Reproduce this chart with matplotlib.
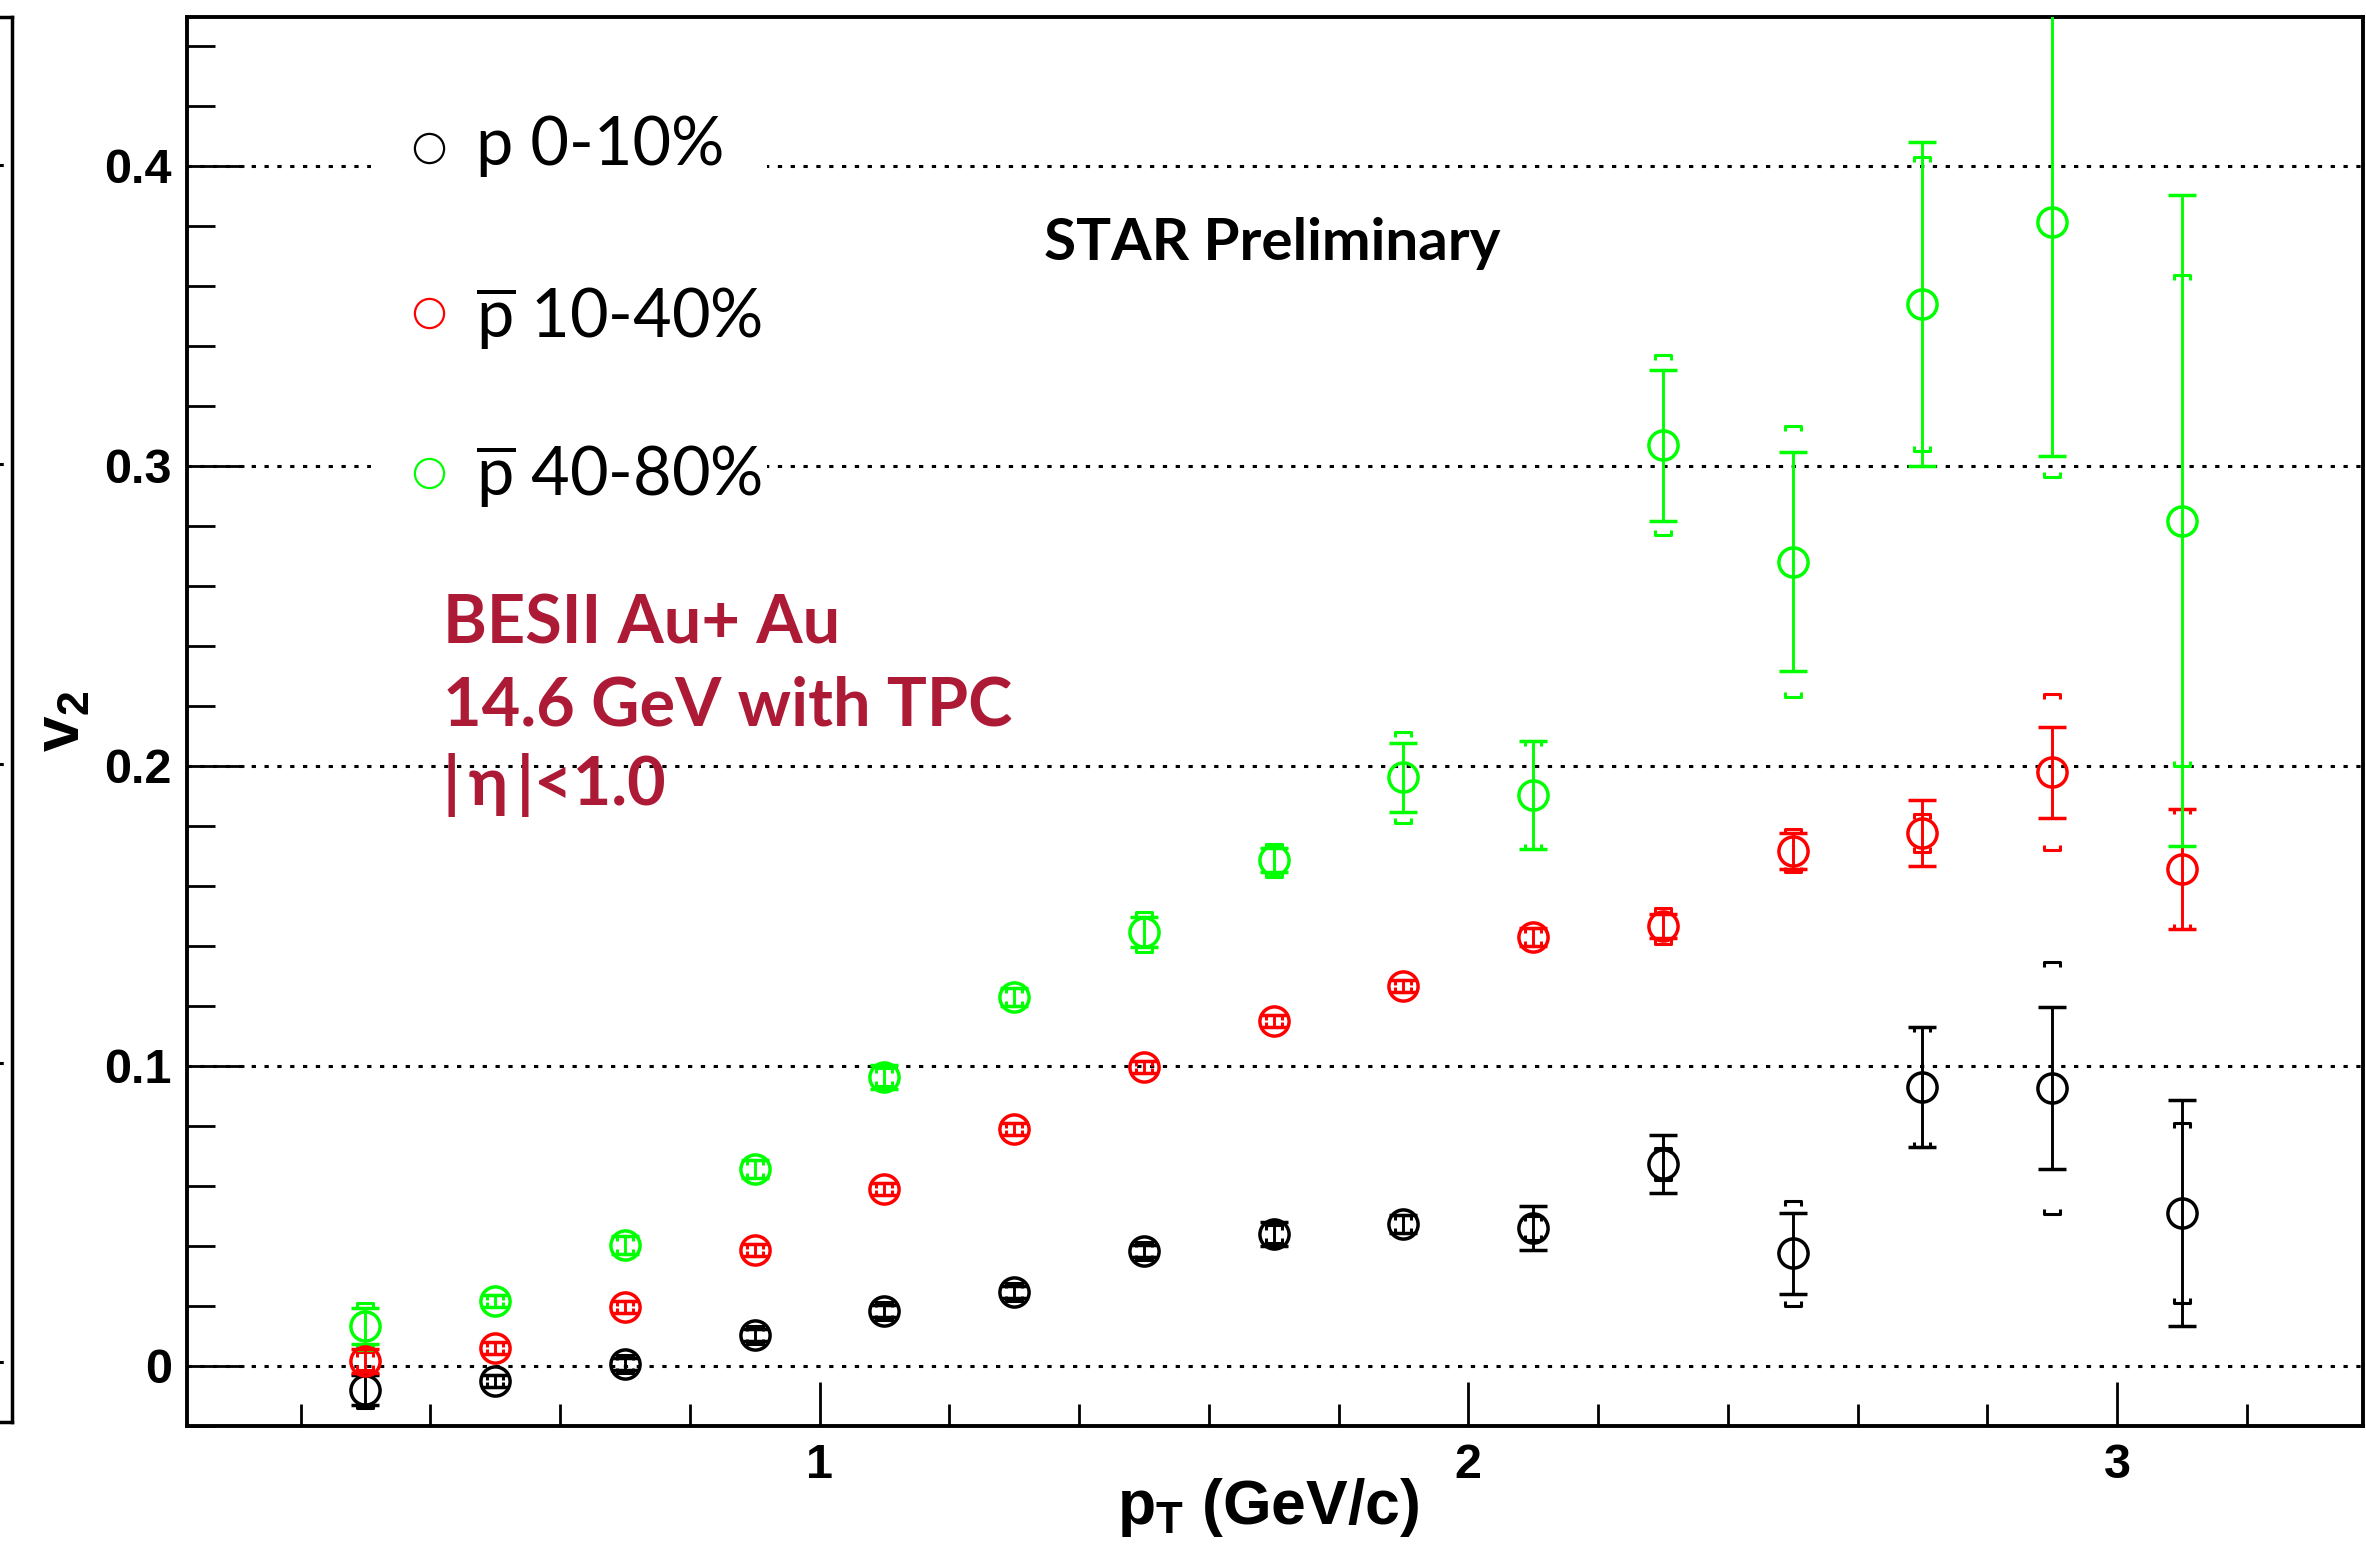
import numpy as np
import matplotlib as mpl
mpl.use('Agg')
import matplotlib.pyplot as plt
from matplotlib.collections import LineCollection
from matplotlib.patches import Rectangle
from matplotlib.ticker import MultipleLocator, FuncFormatter

plt.rcParams['mathtext.fontset'] = 'custom'
plt.rcParams['mathtext.rm'] = 'Lato'
plt.rcParams['mathtext.bf'] = 'Liberation Sans:bold'
plt.rcParams['mathtext.it'] = 'Liberation Sans:italic'
plt.rcParams['mathtext.sf'] = 'Liberation Sans'

# anti-proton / proton v2 vs pT, 14.6 GeV Au+Au
pt = [0.3, 0.5, 0.7, 0.9, 1.1, 1.3, 1.5, 1.7, 1.9, 2.1, 2.3, 2.5, 2.7, 2.9, 3.1]

v2_p_0_10 = [-0.0080, -0.0052, 0.0007, 0.0103, 0.0181, 0.0245, 0.0383, 0.0438,
             0.0472, 0.0458, 0.0671, 0.0375, 0.0929, 0.0924, 0.0510]
stat_p_0_10 = [0.005, 0.002, 0.002, 0.002, 0.002, 0.002, 0.002, 0.004,
               0.003, 0.0073, 0.0097, 0.0135, 0.020, 0.027, 0.0377]
sys_p_0_10 = [0.006, 0.002, 0.003, 0.003, 0.003, 0.003, 0.003, 0.003,
              0.003, 0.004, 0.0053, 0.0175, 0.020, 0.042, 0.030]

v2_pbar_10_40 = [0.0014, 0.0059, 0.0197, 0.0384, 0.0589, 0.0788, 0.0997, 0.1150,
                 0.1265, 0.1430, 0.1465, 0.1717, 0.1776, 0.1978, 0.1656]
stat_pbar_10_40 = [0.004, 0.002, 0.002, 0.002, 0.002, 0.002, 0.002, 0.002,
                   0.002, 0.003, 0.004, 0.006, 0.011, 0.0151, 0.020]
sys_pbar_10_40 = [0.003, 0.002, 0.002, 0.002, 0.002, 0.002, 0.002, 0.002,
                  0.002, 0.003, 0.006, 0.0072, 0.0064, 0.026, 0.020]

v2_pbar_40_80 = [0.0131, 0.0214, 0.0403, 0.0657, 0.0963, 0.1229, 0.1445, 0.1684,
                 0.1961, 0.1902, 0.3068, 0.2680, 0.3540, 0.3813, 0.2817]
stat_pbar_40_80 = [0.006, 0.002, 0.003, 0.003, 0.004, 0.003, 0.005, 0.004,
                   0.0116, 0.018, 0.0252, 0.0366, 0.054, 0.078, 0.1086]
sys_pbar_40_80 = [0.0078, 0.002, 0.003, 0.003, 0.003, 0.003, 0.0067, 0.0055,
                  0.0152, 0.018, 0.030, 0.0452, 0.049, 0.085, 0.0817]

labels = [r'p 0-10%', r'$\overline{\mathrm{p}}$ 10-40%', r'$\overline{\mathrm{p}}$ 40-80%']
colors = ['black', '#ff0000', '#00ff00']

W, H = 2366, 1547
fig = plt.figure(figsize=(W / 100, H / 100), dpi=100)

# frame of the pad, in pixels
fl, fr, ft, fb = 187, 2363, 16.6, 1426
ax = fig.add_axes([fl / W, 1 - fb / H, (fr - fl) / W, (fb - ft) / H])
xmin, xmax = 0.025, 3.379
ymin, ymax = -0.0201, 0.4497
ax.set_xlim(xmin, xmax)
ax.set_ylim(ymin, ymax)

# edge of the neighbouring pad on the left
axl = fig.add_axes([(12 - 600) / W, 1 - 1422 / H, 600 / W, (1422 - ft) / H])
axl.set_ylim(ymin, ymax)
axl.set_xlim(0, 1)
axl.set_xticks([])
axl.set_yticks([])
axl.spines['left'].set_visible(False)
for s in ('right', 'top', 'bottom'):
    axl.spines[s].set_linewidth(2.5)
for g in [0, 0.1, 0.2, 0.3, 0.4]:
    axl.axhline(g, color='black', lw=2.2, ls=(0, (1.4, 2.8)))

for s in ax.spines.values():
    s.set_linewidth(2.8)

ax.xaxis.set_major_locator(MultipleLocator(1))
ax.xaxis.set_minor_locator(MultipleLocator(0.2))
ax.yaxis.set_major_locator(MultipleLocator(0.1))
ax.yaxis.set_minor_locator(MultipleLocator(0.02))
ax.xaxis.set_major_formatter(FuncFormatter(lambda v, _: '%d' % round(v)))
ax.yaxis.set_major_formatter(FuncFormatter(lambda v, _: '0' if abs(v) < 1e-9 else '%g' % round(v, 2)))
ax.tick_params(axis='x', which='major', direction='in', length=32, width=2, pad=12)
ax.tick_params(axis='x', which='minor', direction='in', length=16, width=2)
ax.tick_params(axis='y', which='major', direction='in', length=41, width=2, pad=11)
ax.tick_params(axis='y', which='minor', direction='in', length=20, width=2)
for lab in ax.get_xticklabels() + ax.get_yticklabels():
    lab.set_fontfamily('Liberation Sans')
    lab.set_fontweight('bold')
    lab.set_fontsize(35)

for g in [0, 0.1, 0.2, 0.3, 0.4]:
    ax.axhline(g, color='black', lw=2.2, ls=(0, (1.4, 2.8)), zorder=1)

# systematic brackets, sized in pixels
px_x = (xmax - xmin) / (fr - fl)
px_y = (ymax - ymin) / (fb - ft)


def sys_brackets(x, y, s, color):
    dx, dy = 8 * px_x, 5 * px_y
    segs = []
    for xi, yi, si in zip(x, y, s):
        for sign in (1, -1):
            yb = yi + sign * si
            segs.append([(xi - dx, yb - sign * dy), (xi - dx, yb),
                         (xi + dx, yb), (xi + dx, yb - sign * dy)])
    ax.add_collection(LineCollection(segs, colors=color, linewidths=2.2, zorder=4))


series = [(v2_p_0_10, stat_p_0_10, sys_p_0_10),
          (v2_pbar_10_40, stat_pbar_10_40, sys_pbar_10_40),
          (v2_pbar_40_80, stat_pbar_40_80, sys_pbar_40_80)]
for (v2, st, sy), c in zip(series, colors):
    sys_brackets(pt, v2, sy, c)
    ax.errorbar(pt, v2, yerr=st, fmt='o', ms=21, mfc='none', mec=c, mew=2.5,
                ecolor=c, elinewidth=2.1, capsize=10, capthick=2.1, zorder=5)

# legend block on a white patch
ax.add_patch(Rectangle((0.309, 0.275), 0.919 - 0.309, 0.425 - 0.275,
                       facecolor='white', edgecolor='none', zorder=2))
leg_marker_y = [148, 313, 473]
leg_base_y = [165, 337, 495]
for lab, c, my, by in zip(labels, colors, leg_marker_y, leg_base_y):
    fig.lines.append(plt.Line2D([428.6 / W], [1 - my / H], marker='o', ms=21,
                                mfc='none', mec=c, mew=1.6, transform=fig.transFigure))
    fig.text(476 / W, 1 - by / H, lab, fontsize=48, family=['Lato', 'DejaVu Sans'],
             ha='left', va='baseline')

fig.text(1044 / W, 1 - 260 / H, 'STAR Preliminary', fontsize=42,
         family=['Lato', 'DejaVu Sans'], weight='bold', ha='left', va='baseline')

info = ['BESII Au+ Au', '14.6 GeV with TPC', '|\u2009\u03b7\u2009|<1.0']
for line, by in zip(info, [643, 725, 805]):
    fig.text(443 / W, 1 - by / H, line, fontsize=48, color='#ad1a36',
             family=['Lato', 'DejaVu Sans'], weight='bold', ha='left', va='baseline')

fig.text(1117 / W, 1 - 1524 / H, r'$\mathbf{p_{T}\ (GeV/c)}$', fontsize=45,
         ha='left', va='baseline')
fig.text(62 / W, 1 - 721 / H, r'$\mathbf{v_{2}}$', fontsize=46, rotation=90,
         ha='center', va='center')

fig.savefig('out.png', dpi=100)
